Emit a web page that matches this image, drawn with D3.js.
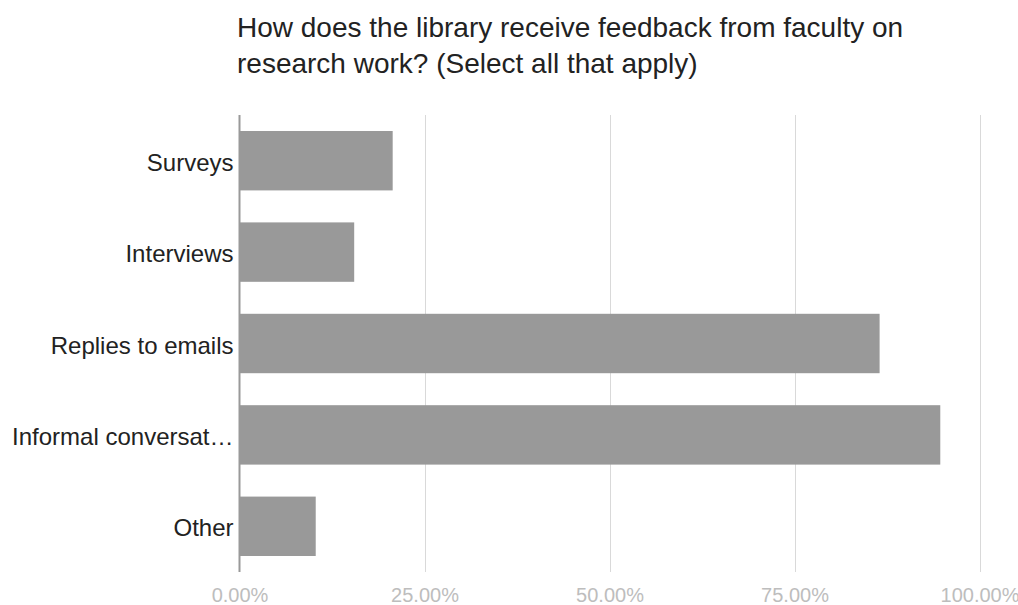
<!DOCTYPE html>
<html><head><meta charset="utf-8">
<script src="https://cdn.jsdelivr.net/npm/d3@7/dist/d3.min.js"></script>
<style>body{margin:0;background:#fff;} svg{display:block;} svg text{font-family:"Liberation Sans",Arial,sans-serif;}</style>
</head><body>
<svg id="chart" width="1018" height="605"></svg>
<script>
const titleLines = ["How does the library receive feedback from faculty on", "research work? (Select all that apply)"];
const categories = ["Surveys", "Interviews", "Replies to emails", "Informal conversat…", "Other"];
const values = [20.7, 15.5, 86.5, 94.7, 10.3];
const tickValues = [0, 25, 50, 75, 100];

const svg = d3.select("#chart");
const W = 1018, H = 605;
const m = {left: 239.5, right: 1018 - 979.5, top: 115, bottom: 605 - 572};

const x = d3.scaleLinear().domain([0, 100]).range([m.left, W - m.right]);
const y = d3.scaleBand().domain(categories).range([m.top, H - m.bottom]).paddingInner(0.35).paddingOuter(0.175);

svg.append("g").selectAll("text").data(titleLines).join("text")
  .attr("x", 237).attr("y", (d, i) => 37 + i * 36)
  .attr("font-size", 28).attr("fill", "#222").text(d => d);

// gridlines
svg.append("g").selectAll("line").data(tickValues.filter(t => t > 0)).join("line")
  .attr("x1", d => Math.round(x(d)) + 0.5).attr("x2", d => Math.round(x(d)) + 0.5)
  .attr("y1", m.top).attr("y2", H - m.bottom)
  .attr("stroke", "#d9d9d9").attr("stroke-width", 1);

// bars
svg.append("g").selectAll("rect").data(categories).join("rect")
  .attr("x", x(0)).attr("y", d => y(d))
  .attr("width", (d, i) => x(values[i]) - x(0))
  .attr("height", y.bandwidth())
  .attr("fill", "#999999");

// zero axis
svg.append("line").attr("x1", x(0)).attr("x2", x(0)).attr("y1", m.top).attr("y2", H - m.bottom)
  .attr("stroke", "#999").attr("stroke-width", 2);

// category labels
const yAxis = d3.axisLeft(y).tickSize(0).tickPadding(6);
const ga = svg.append("g").attr("transform", `translate(${x(0)},0)`).call(yAxis);
ga.select(".domain").remove();
ga.selectAll("text").attr("font-size", 24).attr("fill", "#222").attr("dy", "0.42em");

// x tick labels
const xAxis = d3.axisBottom(x).tickValues(tickValues).tickSize(0).tickPadding(0).tickFormat(d => d3.format(".2f")(d) + "%");
const gx = svg.append("g").attr("transform", `translate(0,${H - m.bottom})`).call(xAxis);
gx.select(".domain").remove();
gx.selectAll("text").attr("font-size", 20).attr("fill", "#bdbdbd").attr("dy", null).attr("y", 30);
</script>
</body></html>
